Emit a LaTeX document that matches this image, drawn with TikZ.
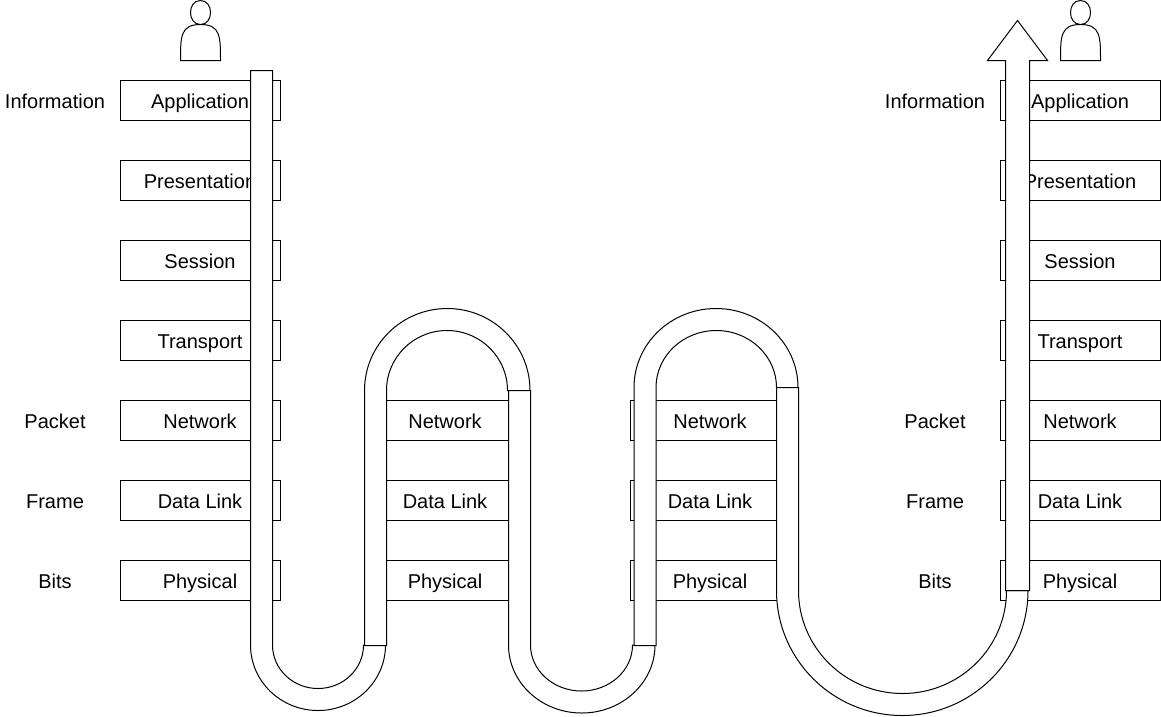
\documentclass[tikz,border=0pt]{standalone}
\usepackage{fontspec}
\setmainfont{Liberation Sans}
\tikzset{
  layerbox/.style={draw=black,fill=white,line width=1pt,minimum width=160pt,minimum height=40pt,inner sep=0pt,font=\fontsize{20}{24}\selectfont,text height=20pt,text depth=4pt},
  sidelabel/.style={inner sep=0pt,font=\fontsize{20}{24}\selectfont,text height=20pt,text depth=4pt},
  band/.style={draw=black,fill=white,line width=1pt,line join=miter},
  person/.style={draw=black,fill=white,line width=1pt}
}
% half ellipse from (#1,#3) to (#2,#3) with apex at y=#4
\newcommand\ctrlA[4]{(#1,{#3+0.5523*(#4-#3)}) and ({(#1+#2)/2+0.5523*(#1-#2)/2},#4) .. ({(#1+#2)/2},#4)}
\newcommand\ctrlB[4]{({(#1+#2)/2+0.5523*(#2-#1)/2},#4) and (#2,{#3+0.5523*(#4-#3)}) .. (#2,#3)}
% U/arch band: straight entry from y=#1 at x=#2,#3 ; bend at y=#4 ; outer to x=#5 apex #6 ; inner to x=#7 apex #8
\newcommand\bandshape[8]{%
  \draw[band] (#2,#1) -- (#2,#4) .. controls \ctrlA{#2}{#5}{#4}{#6} .. controls \ctrlB{#2}{#5}{#4}{#6}
    -- (#7,#4) .. controls \ctrlA{#7}{#3}{#4}{#8} .. controls \ctrlB{#7}{#3}{#4}{#8}
    -- (#3,#1) -- cycle;}
% draw.io actor
\newcommand\actor[1]{%
  \draw[person,shift={(#1,0.5)}] (0,60) .. controls (0,36) and (0,24) .. (20,24)
    .. controls (6.67,24) and (6.67,0) .. (20,0)
    .. controls (33.33,0) and (33.33,24) .. (20,24)
    .. controls (40,24) and (40,36) .. (40,60) -- cycle;}
\begin{document}
\begin{tikzpicture}[x=1pt,y=-1pt]
\useasboundingbox (0,0) rectangle (1161,716);
% layer columns
\foreach \col/\cx in {a/200.5,d/1080.5}{
  \foreach \nm/\cy/\txt in {app/100.5/Application,pre/180.5/Presentation,ses/260.5/Session,tra/340.5/Transport,net/420.5/Network,dat/500.5/Data Link,phy/580.5/Physical}{
    \node[layerbox] (\col\nm) at (\cx,\cy) {\txt\kern1pt};
  }
}
\foreach \col/\cx in {b/445.5,c/710.5}{
  \foreach \nm/\cy/\txt in {net/420.5/Network,dat/500.5/Data Link,phy/580.5/Physical}{
    \node[layerbox] (\col\nm) at (\cx,\cy) {\txt\kern1pt};
  }
}
% side labels
\foreach \col/\cx in {l/55,r/935}{
  \foreach \nm/\cy/\txt in {inf/100.5/Information,pac/420.5/Packet,fra/500.5/Frame,bit/580.5/Bits}{
    \node[sidelabel] (\col\nm) at (\cx,\cy) {\txt};
  }
}
% actors
\actor{180.5}
\actor{1060.5}
% the path through the layers
\bandshape{70.5}{250.5}{272.5}{645}{385.5}{710.5}{363.5}{688.5}
\bandshape{645.5}{364.5}{386.5}{390.5}{530}{308.5}{507.5}{330.5}
\bandshape{390.5}{508.5}{530.5}{645}{655}{713}{632.5}{691}
\bandshape{645.5}{634}{656}{387.5}{798}{308.5}{776.5}{330.5}
\bandshape{387.5}{776.5}{798.5}{590.5}{1028}{715.5}{1006.5}{693.5}
\draw[band] (1005.5,590.5) -- (1005.5,60.5) -- (987.5,60.5) -- (1017.5,20.5) -- (1047.5,60.5) -- (1029.5,60.5) -- (1029.5,590.5) -- cycle;
\end{tikzpicture}
\end{document}
